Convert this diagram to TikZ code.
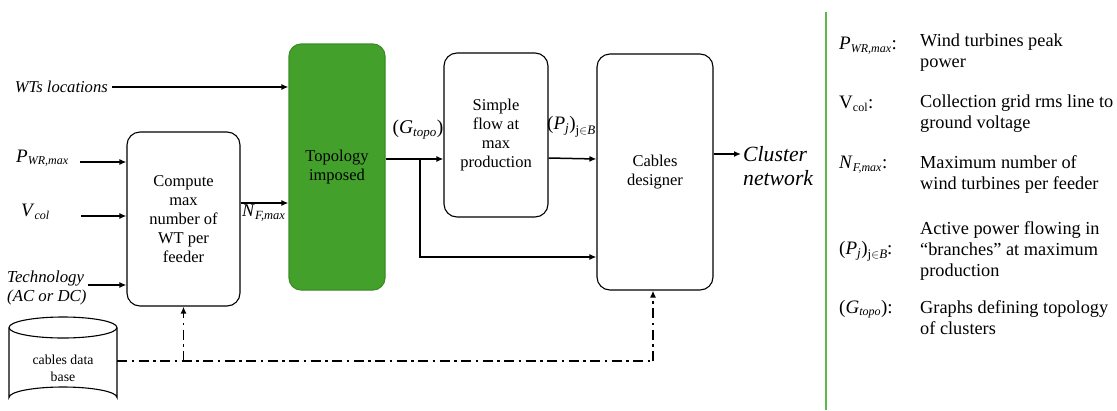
\documentclass[tikz,border=0pt]{standalone}
\usepackage{fontspec}
\setmainfont{Liberation Serif}
\usetikzlibrary{arrows.meta}
\definecolor{topgreen}{HTML}{43A12B}
\definecolor{topborder}{HTML}{3A8C25}
\definecolor{legline}{HTML}{5DB84A}
\newcommand{\ital}[1]{\textit{#1}}
\tikzset{
  blk/.style={draw=black, line width=1.1pt, rounded corners=13pt, align=center, font=\fontsize{16.5}{19}\selectfont},
  arr/.style={line width=1.5pt, -{Latex[length=7pt,width=6pt]}},
  dd/.style={line width=1.5pt, dash pattern=on 10pt off 4.5pt on 2.5pt off 4.5pt},
  lab/.style={font=\fontsize{16}{18}\selectfont, inner sep=0pt},
  leg/.style={font=\fontsize{18.3}{21}\selectfont, align=left, anchor=north west, inner sep=0pt},
  legsym/.style={font=\fontsize{19}{21}\selectfont, align=left, anchor=north west, inner sep=0pt},
}
\begin{document}
\begin{tikzpicture}[x=1pt,y=-1pt]
\useasboundingbox (0,0) rectangle (1117,410);
% boxes
\node[blk, minimum width=113pt, minimum height=174pt] (comp) at (183.5,219) {Compute\\max\\number of\\WT per\\feeder};
\node[blk, fill=topgreen, draw=topborder, minimum width=96pt, minimum height=246pt, rounded corners=12pt] (topo) at (337,167) {Topology\\imposed};
\node[blk, minimum width=104pt, minimum height=164pt] (flow) at (496,135) {Simple\\flow at\\max\\production};
\node[blk, minimum width=116pt, minimum height=236pt] (cab) at (655,172) {Cables\\designer};
% database cylinder
\node[align=center, font=\fontsize{13.8}{17}\selectfont, inner sep=0pt] (db) at (63,368) {cables data\\base};
\coordinate (dbE) at (117,361);
\draw[line width=1.1pt] (63,327.5) ellipse [x radius=54, y radius=10.5];
\draw[line width=1.1pt] (9,327.5) -- (9,397.5) arc[start angle=180, end angle=360, x radius=54, y radius=10.5] -- (117,327.5);
% inputs
\node[lab, anchor=east, font=\fontsize{16.6}{18}\itshape] (wts) at (108,87) {WTs locations};
\draw[arr] (wts.east) ++(4,0) -- (topo.west |- 0,87);
\node[lab, anchor=west, font=\fontsize{19}{19}\selectfont] (pwr) at (16,158) {\ital{P}\textsubscript{\ital{\fontsize{12}{12}\selectfont WR,max}}};
\coordinate (pwrE) at (80,162);
\draw[arr] (pwrE) -- (comp.west |- pwrE);
\node[lab, anchor=west, font=\fontsize{19}{19}\selectfont] (vcol) at (21,212) {\ital{V}\textsubscript{\ital{\fontsize{12}{12}\selectfont col}}};
\coordinate (vcolE) at (81,216);
\draw[arr] (vcolE) -- (comp.west |- vcolE);
\node[lab, anchor=west, align=left, font=\fontsize{16.8}{19}\itshape] (tech) at (7,288) {Technology\\(AC or DC)};
\coordinate (techE) at (88,285);
\draw[arr] (techE) -- (comp.west |- techE);
% N_F,max
\draw[arr] (comp.east |- 0,203) -- (topo.west |- 0,203);
\node[lab, anchor=west, font=\fontsize{18}{18}\selectfont] (nf) at (242,213) {\ital{N}\textsubscript{\ital{\fontsize{12.5}{12}\selectfont F,max}}};
% topology outputs
\coordinate (br) at (420,159);
\draw[arr] (topo.east |- br) -- (flow.west |- br);
\draw[arr] (br) -- (420,257) -- (cab.west |- 0,257);
\node[lab, font=\fontsize{19.5}{19}\selectfont] (gt) at (418,130) {(\ital{G}\textsubscript{\ital{\fontsize{13}{13}\selectfont topo}})};
\draw[arr] (flow.east |- 0,158) -- (cab.west |- 0,159);
\node[lab, anchor=west, font=\fontsize{19}{19}\selectfont] (pj) at (547,127) {(\ital{P}\textsubscript{\ital{j}})\raisebox{-5pt}{\fontsize{13}{13}\selectfont j$\in$\ital{B}}};
% output
\coordinate (outE) at (741,154);
\draw[arr] (cab.east |- outE) -- (outE);
\node[lab, anchor=west, align=left, font=\fontsize{21.7}{24}\itshape] (clu) at (743,166) {Cluster\\network};
% database links
\draw[dd] (dbE) -- (653,361) coordinate (dr);
\draw[dd, -{Latex[length=7pt,width=6pt]}] (dr) -- (cab.south -| dr);
\draw[dd, -{Latex[length=7pt,width=6pt]}] (comp.south |- dbE) -- (comp.south);
% legend
\draw[legline, line width=1.5pt] (826,12) -- (826,410);
\node[legsym] (l1) at (839,37) {\ital{P}\textsubscript{\ital{\fontsize{12}{12}\selectfont WR,max}}:};
\node[leg] (d1) at (920,34) {Wind turbines peak\\power};
\node[legsym] (l2) at (839,96) {V\textsubscript{\fontsize{12}{12}\selectfont col}:};
\node[leg] (d2) at (920,95) {Collection grid rms line to\\ground voltage};
\node[legsym] (l3) at (839,156) {\ital{N}\textsubscript{\ital{\fontsize{12}{12}\selectfont F,max}}:};
\node[leg] (d3) at (920,155) {Maximum number of\\wind turbines per feeder};
\node[legsym] (l4) at (839,241) {(\ital{P}\textsubscript{\ital{j}})\raisebox{-4pt}{\fontsize{13}{13}\selectfont j$\in$\ital{B}}:};
\node[leg] (d4) at (920,221) {Active power flowing in\\“branches” at maximum\\production};
\node[legsym] (l5) at (839,300) {(\ital{G}\textsubscript{\ital{\fontsize{12}{12}\selectfont topo}}):};
\node[leg] (d5) at (920,300) {Graphs defining topology\\of clusters};
\end{tikzpicture}
\end{document}
